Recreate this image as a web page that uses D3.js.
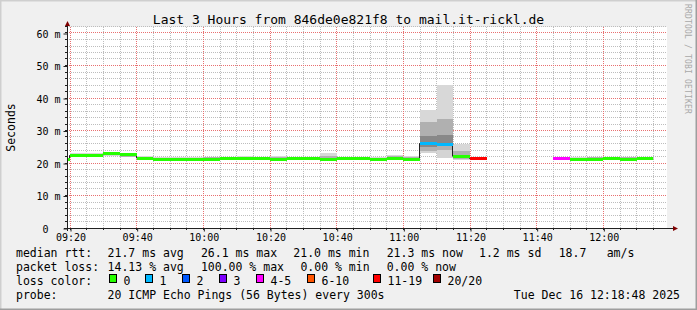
<!DOCTYPE html>
<html>
<head>
<meta charset="utf-8">
<script src="https://cdn.jsdelivr.net/npm/d3@7"></script>
<style>
  html, body { margin: 0; padding: 0; background: #f0f0f0; }
  svg { display: block; font-family: "DejaVu Sans Mono", monospace; }
</style>
</head>
<body>
<div class="SmokeChart"></div>
<script>
// 5 minute steps (start time of each step)
const stepTimes = ["09:15","09:20","09:25","09:30","09:35","09:40","09:45","09:50","09:55",
  "10:00","10:05","10:10","10:15","10:20","10:25","10:30","10:35","10:40","10:45","10:50","10:55",
  "11:00","11:05","11:10","11:15","11:20","11:25","11:30","11:35","11:40","11:45","11:50","11:55",
  "12:00","12:05","12:10"];

// median rtt in ms, null = no answer
const medianRtt = [21.0,22.4,22.4,22.8,22.6,21.5,21.1,21.1,21.1,
  21.2,21.3,21.5,21.4,21.2,21.5,21.4,21.2,21.5,21.4,21.2,21.5,
  21.0,26.1,25.8,22.0,21.3,null,null,null,null,21.3,21.1,21.2,
  21.3,21.2,21.3];

// lost pings out of 20
const lossCount = [0,0,0,0,0,0,0,0,0,
  0,0,0,0,0,0,0,0,0,0,0,0,
  0,1,1,0,15,20,20,20,20,4,0,0,
  0,0,0];

// smoke: sorted ping spread (ms)
const pingMin = [20.7,21.9,21.9,22.2,21.8,21.1,20.8,20.8,20.8,
  20.8,20.9,21.1,21.0,20.9,21.1,21.0,20.9,21.2,21.1,20.6,21.2,
  20.8,23.0,21.4,20.8,20.9,null,null,null,null,21.0,20.7,20.9,
  21.0,20.9,21.0];
const pingP10 = [20.8,22.1,22.1,22.4,21.9,21.2,20.9,20.9,20.9,
  20.9,21.0,21.2,21.1,21.0,21.2,21.1,21.0,21.3,21.2,20.7,21.3,
  20.9,23.7,23.9,21.3,21.0,null,null,null,null,21.1,20.8,21.0,
  21.1,21.0,21.1];
const pingP30 = [20.9,22.3,22.3,22.6,22.1,21.4,21.0,21.0,21.0,
  21.1,21.2,21.4,21.3,21.1,21.4,21.3,21.1,21.4,21.3,20.9,21.4,
  21.0,25.0,25.2,21.7,21.2,null,null,null,null,21.2,21.0,21.1,
  21.2,21.1,21.2];
const pingP70 = [21.1,22.6,22.6,22.9,22.7,21.7,21.3,21.3,21.2,
  21.5,21.6,21.7,21.6,21.4,21.7,21.6,21.5,21.7,21.6,21.3,21.8,
  21.3,28.4,28.5,22.6,21.5,null,null,null,null,21.5,21.3,21.4,
  21.5,21.4,21.5];
const pingP90 = [21.3,22.9,22.9,23.0,22.9,21.9,21.6,21.6,21.5,
  21.8,21.9,21.9,21.8,21.8,21.9,21.8,22.2,21.9,21.8,21.5,22.2,
  21.8,32.6,33.5,23.6,21.7,null,null,null,null,21.8,21.6,21.7,
  21.8,21.7,21.8];
const pingMax = [21.6,23.2,23.2,23.2,23.1,22.1,21.9,21.9,21.7,
  22.0,22.0,22.1,22.0,22.1,22.0,21.9,23.1,22.0,21.9,21.7,22.5,
  22.2,36.3,44.1,25.8,21.9,null,null,null,null,22.0,21.8,21.9,
  22.0,21.9,22.0];

const yTicks = [0, 10, 20, 30, 40, 50, 60];
const xTickLabels = ["09:20","09:40","10:00","10:20","10:40","11:00","11:20","11:40","12:00"];
const lossLegend = ["0","1","2","3","4-5","6-10","11-19","20/20"];
const lossColors = ["#26ff00","#00b8ff","#0059ff","#7e00ff","#ff00ff","#ff5500","#ff0000","#a10000"];
const rttStats = ["21.7 ms avg","26.1 ms max","21.0 ms min","21.3 ms now","1.2 ms sd","18.7","am/s"];
const lossStats = ["14.13 % avg","100.00 % max","0.00 % min","0.00 % now"];
const probeText = "20 ICMP Echo Pings (56 Bytes) every 300s";
const stampText = "Tue Dec 16 12:18:48 2025";
const titleText = "Last 3 Hours from 846de0e821f8 to mail.it-rickl.de";

const parseTime = d3.utcParse("%H:%M:%S");
const W = 697, H = 310;
const plot = { left: 67, right: 667, top: 27, bottom: 228 };

function lossIndex(n) {
  if (n <= 3) return n;
  if (n <= 5) return 4;
  if (n <= 10) return 5;
  if (n <= 19) return 6;
  return 7;
}

function setupSvg() {
  const svg = d3.select(".SmokeChart").append("svg")
    .attr("width", W).attr("height", H);

  svg.append("rect").attr("width", W).attr("height", H).attr("fill", "#f0f0f0");
  // shaded frame
  svg.append("path").attr("d", `M0,${H}V0H${W}`).attr("fill", "none")
    .attr("stroke", "#cfcfcf").attr("stroke-width", 3);
  svg.append("path").attr("d", `M${W},0V${H}H0`).attr("fill", "none")
    .attr("stroke", "#9e9e9e").attr("stroke-width", 3);

  svg.append("rect")
    .attr("x", plot.left).attr("y", plot.top)
    .attr("width", plot.right - plot.left).attr("height", plot.bottom - plot.top)
    .attr("fill", "#ffffff");
  return svg;
}

function setupScales() {
  const x = d3.scaleUtc()
    .domain([parseTime("09:19:06"), parseTime("12:19:06")])
    .range([plot.left, plot.right]);
  const y = d3.scaleLinear()
    .domain([0, 62])
    .range([plot.bottom, 26.5]);
  return { x, y };
}

function drawGrid(svg, x, y) {
  const g = svg.append("g").attr("class", "grid");
  const [t0, t1] = x.domain();
  const crisp = v => Math.floor(v) + 0.5;
  const minor = "#bdbdbd", major = "#e87070";

  d3.range(0, 63, 2).filter(v => v % 10 !== 0).forEach(v => {
    g.append("line").attr("x1", plot.left).attr("x2", plot.right)
      .attr("y1", crisp(y(v))).attr("y2", crisp(y(v)))
      .attr("stroke", minor).attr("stroke-dasharray", "1,1");
  });
  d3.utcMinute.every(5).range(t0, t1).filter(t => t.getUTCMinutes() % 20 !== 0).forEach(t => {
    g.append("line").attr("y1", plot.top).attr("y2", plot.bottom)
      .attr("x1", crisp(x(t))).attr("x2", crisp(x(t)))
      .attr("stroke", minor).attr("stroke-dasharray", "1,1");
  });
  yTicks.filter(v => v > 0).forEach(v => {
    g.append("line").attr("x1", plot.left).attr("x2", plot.right)
      .attr("y1", crisp(y(v))).attr("y2", crisp(y(v)))
      .attr("stroke", major).attr("stroke-dasharray", "1,1");
  });
  xTickLabels.forEach(s => {
    const t = parseTime(s + ":00");
    g.append("line").attr("y1", plot.top).attr("y2", plot.bottom)
      .attr("x1", crisp(x(t))).attr("x2", crisp(x(t)))
      .attr("stroke", major).attr("stroke-dasharray", "1,1");
  });
}

function drawSmoke(svg, x, y) {
  const g = svg.append("g").attr("class", "smoke").attr("shape-rendering", "crispEdges");
  const bands = [
    [pingMin, pingP10, "#d4d4d4"],
    [pingP10, pingP30, "#b0b0b0"],
    [pingP30, pingP70, "#888888"],
    [pingP70, pingP90, "#b0b0b0"],
    [pingP90, pingMax, "#d8d8d8"]
  ];
  stepTimes.forEach((s, i) => {
    if (medianRtt[i] == null) return;
    const t = parseTime(s + ":00");
    const x0 = Math.max(plot.left, x(t)), x1 = Math.min(plot.right, x(d3.utcMinute.offset(t, 5)));
    bands.forEach(([lo, hi, c]) => {
      g.append("rect")
        .attr("x", x0).attr("width", x1 - x0)
        .attr("y", y(hi[i])).attr("height", y(lo[i]) - y(hi[i]))
        .attr("fill", c);
    });
  });
}

function drawMedian(svg, x, y) {
  const steps = stepTimes.map((s, i) => {
    const t = parseTime(s + ":00");
    return { t0: t, t1: d3.utcMinute.offset(t, 5), v: medianRtt[i], loss: lossCount[i] };
  });
  const clampX = t => Math.max(plot.left, Math.min(plot.right, x(t)));

  // thin dark median with vertical joins
  const line = d3.line().x(d => d[0]).y(d => d[1]);
  const dark = svg.append("g").attr("class", "median-line");
  steps.forEach((d, i) => {
    if (d.v == null) return;
    dark.append("path")
      .attr("d", line([[clampX(d.t0), y(d.v)], [clampX(d.t1), y(d.v)]]))
      .attr("stroke", "#202020").attr("fill", "none");
    const next = steps[i + 1];
    if (next && next.v != null) {
      const xb = Math.round(clampX(d.t1)) - 0.5;
      dark.append("path")
        .attr("d", line([[xb, y(d.v)], [xb, y(next.v)]]))
        .attr("stroke", "#202020").attr("fill", "none");
    }
  });

  // loss coloured median band
  const g = svg.append("g").attr("class", "median").attr("shape-rendering", "crispEdges");
  steps.forEach(d => {
    if (d.v == null) return;
    const x0 = clampX(d.t0), x1 = clampX(d.t1);
    g.append("rect")
      .attr("x", x0).attr("width", x1 - x0)
      .attr("y", y(d.v) - 1.5).attr("height", 3)
      .attr("fill", lossColors[lossIndex(d.loss)]);
  });
}

function drawAxes(svg, x, y) {
  const [t0, t1] = x.domain();
  const crisp = v => Math.floor(v) + 0.5;

  // minor ticks
  d3.range(0, 63, 2).forEach(v => {
    svg.append("line").attr("x1", plot.left - 2).attr("x2", plot.left)
      .attr("y1", crisp(y(v))).attr("y2", crisp(y(v))).attr("stroke", "#202020");
  });
  d3.utcMinute.every(5).range(t0, t1).forEach(t => {
    svg.append("line").attr("y1", plot.bottom).attr("y2", plot.bottom + 2)
      .attr("x1", crisp(x(t))).attr("x2", crisp(x(t))).attr("stroke", "#202020");
  });

  const yAxis = svg.append("g")
    .attr("transform", `translate(${plot.left + 0.5},0.5)`)
    .call(d3.axisLeft(y).tickValues(yTicks).tickSize(4).tickPadding(3)
      .tickFormat(d => d === 0 ? "0" : d + " m"));
  yAxis.select(".domain").remove();
  yAxis.selectAll(".tick line").attr("stroke", "#202020");
  yAxis.selectAll("text")
    .attr("font-family", "DejaVu Sans Mono").attr("font-size", 10).attr("fill", "#000")
    .attr("dy", "0.35em")
    .filter(d => d === 0).attr("dx", -12);

  const xAxis = svg.append("g")
    .attr("transform", `translate(0.5,${plot.bottom + 0.5})`)
    .call(d3.axisBottom(x).tickValues(xTickLabels.map(s => parseTime(s + ":00")))
      .tickSize(3).tickPadding(3).tickFormat(d3.utcFormat("%H:%M")));
  xAxis.select(".domain").remove();
  xAxis.selectAll(".tick line").attr("stroke", "#202020");
  xAxis.selectAll("text")
    .attr("font-family", "DejaVu Sans Mono").attr("font-size", 10).attr("fill", "#000")
    .attr("y", 12.5).attr("dy", 0);

  // axis lines + arrows
  svg.append("line").attr("x1", plot.left - 3).attr("x2", plot.right + 6)
    .attr("y1", plot.bottom + 0.5).attr("y2", plot.bottom + 0.5).attr("stroke", "#202020");
  svg.append("line").attr("x1", plot.left + 0.5).attr("x2", plot.left + 0.5)
    .attr("y1", plot.bottom + 3).attr("y2", plot.top - 1).attr("stroke", "#202020");
  svg.append("path")
    .attr("d", `M${plot.right + 6},${plot.bottom - 2}L${plot.right + 11},${plot.bottom + 0.5}L${plot.right + 6},${plot.bottom + 3}Z`)
    .attr("fill", "#7f0000");
  svg.append("path")
    .attr("d", `M${plot.left - 2},${plot.top - 1}L${plot.left + 0.5},${plot.top - 6}L${plot.left + 3},${plot.top - 1}Z`)
    .attr("fill", "#7f0000");
}

function drawTexts(svg) {
  svg.append("text").attr("x", 348.5).attr("y", 24)
    .attr("text-anchor", "middle").attr("font-size", 13).text(titleText);

  svg.append("text").attr("transform", "translate(15,127.5) rotate(-90)")
    .attr("text-anchor", "middle").attr("font-size", 11.5).text("Seconds");

  svg.append("text").attr("transform", "translate(684.5,4) rotate(90)")
    .attr("font-size", 8).attr("letter-spacing", 0.2).attr("fill", "#a8a8a8")
    .attr("textLength", 110).attr("lengthAdjust", "spacing")
    .text("RRDTOOL / TOBI OETIKER");

  const legend = svg.append("g").attr("font-size", 11.5);
  const row = (yb, label) => legend.append("text").attr("x", 16).attr("y", yb).text(label);

  row(257, "median rtt:");
  const rttX = [107.6, 200.9, 293.3, 386.7, 479, 558.7, 606.7];
  rttStats.forEach((s, i) => legend.append("text").attr("x", rttX[i]).attr("y", 257).text(s));

  row(271, "packet loss:");
  const lossX = [107.6, 200.9, 300.4, 386.7];
  lossStats.forEach((s, i) => legend.append("text").attr("x", lossX[i]).attr("y", 271).text(s));

  row(285, "loss color:");
  const swX = [109.5, 145.5, 182.5, 219.5, 256.5, 307.5, 373.5, 433.5];
  lossLegend.forEach((s, i) => {
    legend.append("rect").attr("x", swX[i]).attr("y", 274.5).attr("width", 7).attr("height", 8)
      .attr("fill", lossColors[i]).attr("stroke", "#000");
    legend.append("text").attr("x", swX[i] + 14).attr("y", 285).text(s);
  });

  row(299, "probe:");
  legend.append("text").attr("x", 107.6).attr("y", 299).text(probeText);
  legend.append("text").attr("x", 680).attr("y", 299).attr("text-anchor", "end").text(stampText);
}

function createSmokeChart() {
  d3.select(".SmokeChart").selectAll("*").remove();
  const svg = setupSvg();
  const { x, y } = setupScales();
  drawGrid(svg, x, y);
  drawSmoke(svg, x, y);
  drawMedian(svg, x, y);
  drawAxes(svg, x, y);
  drawTexts(svg);
}

createSmokeChart();
</script>
</body>
</html>
